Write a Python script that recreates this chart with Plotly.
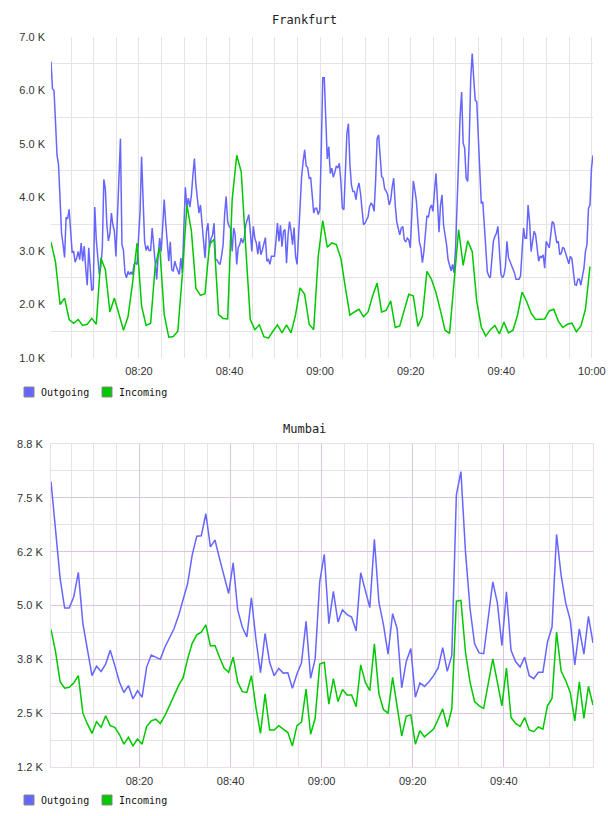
import pandas as pd
import plotly.graph_objects as go

# ---------------- data (values in thousands) ----------------
fra_out = [
    6.54, 6.03, 6.00, 5.41, 4.79, 4.61, 3.99, 3.33, 3.12, 2.88,
    3.63, 3.60, 3.78, 3.37, 2.98, 2.99, 2.79, 2.87, 2.99, 2.84,
    3.15, 2.81, 3.09, 2.68, 2.36, 3.06, 2.56, 2.26, 2.29, 3.82,
    3.21, 2.81, 2.56, 2.71, 3.06, 4.34, 4.16, 3.49, 3.19, 3.32,
    3.71, 3.49, 3.37, 2.90, 3.55, 4.42, 5.10, 3.12, 3.01, 2.59,
    2.50, 2.62, 2.56, 2.61, 2.56, 2.75, 2.78, 2.75, 3.30, 3.74,
    4.76, 3.96, 3.18, 3.01, 3.10, 3.01, 3.01, 3.43, 3.06, 2.68,
    2.47, 2.93, 3.24, 2.99, 3.49, 3.96, 3.52, 3.18, 2.81, 3.17,
    2.65, 2.62, 2.81, 2.71, 2.65, 2.56, 2.87, 2.59, 3.43, 4.19,
    3.80, 3.99, 3.82, 4.05, 4.42, 4.73, 4.23, 3.96, 3.71, 3.86,
    3.55, 3.30, 2.87, 3.37, 3.52, 3.06, 3.23, 3.30, 3.52, 2.84,
    2.83, 2.78, 2.75, 2.91, 3.12, 3.68, 4.02, 3.55, 3.46, 3.43,
    2.99, 3.43, 3.30, 2.75, 3.06, 3.12, 3.24, 3.15, 3.24, 3.49,
    3.61, 3.68, 3.37, 2.99, 3.46, 3.24, 3.15, 2.94, 3.18, 2.93,
    3.02, 3.15, 3.25, 2.81, 2.84, 2.75, 2.90, 2.90, 2.90, 3.18,
    3.52, 3.18, 3.48, 3.08, 3.37, 3.40, 2.77, 3.30, 3.55, 3.37,
    3.12, 3.44, 2.90, 2.75, 3.30, 4.05, 4.39, 4.67, 4.89, 4.59,
    4.56, 4.36, 4.37, 4.05, 3.71, 3.80, 3.80, 3.68, 3.76, 4.86,
    6.24, 6.24, 5.54, 4.72,
    4.95, 4.45, 4.55, 4.38, 4.47, 4.59, 4.55, 4.64, 4.30, 3.80,
    3.77, 4.42, 5.20, 5.38, 4.61, 4.23, 4.11, 4.11, 3.96, 4.17,
    4.27, 4.08, 3.80, 3.49, 3.52, 3.60, 3.64, 3.83, 3.89, 3.86,
    3.74, 4.30, 5.10, 5.17, 4.73, 4.39, 4.36, 4.16, 4.12, 4.05,
    3.86, 3.95, 4.20, 4.36, 3.86, 3.55, 3.42, 3.30, 3.43, 3.46,
    3.21, 3.17, 3.24, 3.21, 3.06, 3.68, 4.31, 4.14, 3.94, 3.55,
    3.17, 3.06, 2.78, 2.99, 3.43, 3.66, 3.63, 3.80, 3.86, 3.74,
    4.11, 4.45, 3.92, 3.35, 3.86, 4.05, 3.49, 3.33, 3.12, 2.84,
    2.71, 2.63, 2.75, 2.59, 3.06, 3.92, 4.55, 5.54, 5.97, 5.02,
    4.92, 4.36, 4.30, 5.04, 6.22, 6.69, 6.22, 5.82, 5.79, 5.17,
    4.30, 3.89, 3.92, 3.52, 2.99, 2.61, 2.53, 2.50, 2.84, 3.18,
    3.27, 3.33, 3.46, 2.99, 2.57, 2.50, 2.55, 2.71, 3.18, 2.88,
    2.81, 2.75, 2.65, 2.59, 2.47, 2.47, 2.47, 2.53, 2.99, 3.43,
    3.24, 3.24, 3.86, 3.55, 2.99, 3.15, 3.37, 3.30, 2.99, 2.81,
    2.90, 2.88, 2.93, 2.68, 3.18, 3.12, 3.06, 3.30, 3.55, 3.52,
    3.30, 3.15, 3.18, 2.93, 2.96, 3.07, 3.04, 2.96, 2.84, 2.76,
    2.90, 2.86, 2.61, 2.37, 2.36, 2.47, 2.47, 2.36, 2.53, 2.68,
    2.99, 3.12, 3.80, 3.86, 4.55, 4.79,
]

fra_in = [
    3.17, 2.79, 2.00, 2.12, 1.72, 1.65, 1.72, 1.61, 1.63, 1.74,
    1.63, 2.87, 2.65, 1.86, 2.12, 1.81, 1.52, 1.77, 2.40, 3.15,
    1.97, 1.61, 1.65, 2.71, 3.07, 1.81, 1.39, 1.40, 1.50, 2.56,
    3.86, 3.37, 2.30, 2.17, 2.20, 3.12, 3.22, 1.81, 1.74, 1.73,
    3.96, 4.79, 4.48, 3.06, 1.72, 1.53, 1.62, 1.40, 1.37, 1.50,
    1.62, 1.47, 1.62, 1.47, 1.81, 2.31, 2.19, 1.63, 1.53, 2.90,
    3.57,
    3.07, 3.15, 3.12, 2.86, 2.31, 1.80, 1.86, 1.91, 1.77, 1.86,
    2.16, 2.40, 1.86, 1.89, 2.07, 1.57, 1.60, 1.91, 2.19, 2.16,
    1.59, 1.78, 2.62, 2.47, 2.22, 1.88, 1.52, 1.46, 2.40, 3.40,
    2.73, 3.19, 2.99, 2.06, 1.58, 1.41, 1.53, 1.61, 1.45, 1.67,
    1.47, 1.52, 1.80, 2.23, 2.06, 1.84, 1.72, 1.73, 1.73, 1.88,
    1.91, 1.69, 1.57, 1.63, 1.65, 1.49, 1.60, 1.91, 2.71,
]

mum_out = [
    7.88, 6.71, 5.63, 4.94, 4.94, 5.20, 5.77, 4.58, 4.00, 3.37,
    3.59, 3.47, 3.64, 3.96, 3.61, 3.23, 2.98, 3.14, 2.83, 3.02,
    2.87, 3.57, 3.85, 3.80, 3.75, 4.03, 4.24, 4.46, 4.76, 5.12,
    5.51, 6.17, 6.61, 6.62, 7.13, 6.36, 6.52, 6.09, 5.66, 5.28,
    5.99, 4.89, 4.50, 4.27, 5.18, 4.21, 3.44, 4.35, 3.68, 3.37,
    3.54, 3.43, 3.44, 3.08, 3.41, 3.67, 4.63, 3.31, 3.76, 5.55,
    6.19,
    4.58, 5.33, 4.62, 4.90, 4.79, 4.73, 4.41, 5.76, 5.35, 4.95,
    6.54, 5.07, 4.55, 3.87, 4.81, 4.46, 3.09, 3.70, 4.00, 2.87,
    3.20, 3.12, 3.23, 3.37, 3.55, 4.02, 3.47, 3.84, 7.57, 8.11,
    6.25, 4.93, 4.11, 3.90, 3.88, 4.69, 5.55, 5.06, 4.07, 5.32,
    3.96, 3.70, 3.57, 3.80, 3.37, 3.30, 3.45, 3.45, 4.15, 4.50,
    6.65, 5.70, 5.06, 4.66, 3.62, 4.46, 3.87, 4.75, 4.13,
]

mum_in = [
    4.44, 3.93, 3.23, 3.08, 3.10, 3.20, 3.37, 2.50, 2.25, 2.03,
    2.30, 2.17, 2.44, 2.21, 2.17, 2.01, 1.78, 1.94, 1.74, 1.90,
    1.78, 2.19, 2.32, 2.36, 2.26, 2.44, 2.67, 2.91, 3.14, 3.32,
    3.76, 4.12, 4.32, 4.38, 4.55, 4.06, 4.07, 3.80, 3.55, 3.45,
    3.80, 3.22, 3.00, 2.98, 3.37, 2.63, 2.03, 2.95, 2.11, 2.11,
    2.21, 2.13, 2.05, 1.74, 2.21, 2.29, 3.06, 2.01, 2.38, 3.64,
    3.68,
    2.71, 3.30, 2.77, 3.05, 2.92, 2.92, 2.65, 3.62, 3.22, 3.02,
    4.11, 2.95, 2.58, 2.50, 3.33, 2.67, 1.97, 2.43, 2.46, 1.78,
    2.09, 1.95, 2.04, 2.13, 2.36, 2.60, 2.18, 2.60, 5.10, 5.12,
    3.92, 3.22, 2.77, 2.67, 2.61, 3.22, 3.76, 3.22, 2.67, 3.55,
    2.40, 2.26, 2.19, 2.40, 2.11, 2.07, 2.18, 2.13, 2.67, 2.84,
    4.38, 3.48, 3.26, 2.98, 2.32, 3.23, 2.38, 3.12, 2.69,
]

start_time = "2024-01-01 08:00:35"
fine_step = "20s"      # Frankfurt outgoing sampling
coarse_step = "60s"    # other series sampling

fra_ticks = [1, 2, 3, 4, 5, 6, 7]
fra_labels = ["1.0 K", "2.0 K", "3.0 K", "4.0 K", "5.0 K", "6.0 K", "7.0 K"]
mum_ticks = [1.25, 2.5, 3.75, 5.0, 6.25, 7.5, 8.75]
mum_labels = ["1.2 K", "2.5 K", "3.8 K", "5.0 K", "6.2 K", "7.5 K", "8.8 K"]

titles = ["Frankfurt", "Mumbai"]
series_names = ["Outgoing", "Incoming"]

# ---------------- styling ----------------
W, H = 608, 816
BLUE = "#6666ff"
GREEN = "#00c800"
GRID = "#e4e4e4"
PURPLE = "#dcc4dc"
PURPLE_LIGHT = "#ecdcec"
TICK_FONT = dict(family="Liberation Sans, Arial, sans-serif", size=11, color="#333333")
MONO = "DejaVu Sans Mono, monospace"


def px_x(x):
    return x / W


def px_y(y):
    return 1 - y / H


t_fine = pd.date_range(start=start_time, periods=len(fra_out), freq=fine_step)
t_fra_in = pd.date_range(start=start_time, periods=len(fra_in), freq=coarse_step)
t_mum = pd.date_range(start=start_time, periods=len(mum_out), freq=coarse_step)

fig = go.Figure()
fig.add_trace(go.Scatter(x=t_fine, y=fra_out, mode="lines", name=series_names[0],
                         line=dict(color=BLUE, width=1.5), xaxis="x", yaxis="y"))
fig.add_trace(go.Scatter(x=t_fra_in, y=fra_in, mode="lines", name=series_names[1],
                         line=dict(color=GREEN, width=1.5), xaxis="x", yaxis="y"))
fig.add_trace(go.Scatter(x=t_mum, y=mum_out, mode="lines", name=series_names[0],
                         line=dict(color=BLUE, width=1.5), xaxis="x2", yaxis="y2"))
fig.add_trace(go.Scatter(x=t_mum, y=mum_in, mode="lines", name=series_names[1],
                         line=dict(color=GREEN, width=1.5), xaxis="x2", yaxis="y2"))

xdom = [px_x(51), px_x(593)]
tick0 = "2024-01-01 08:00:00"

fig.update_layout(
    width=W, height=H, autosize=False, margin=dict(l=0, r=0, t=0, b=0, pad=0),
    paper_bgcolor="white", plot_bgcolor="white", showlegend=False,
    xaxis=dict(domain=xdom, anchor="y", type="date", automargin=False,
               range=[t_fine[0], t_fine[-1]],
               tickmode="linear", tick0=tick0, dtick=1200000, tickformat="%H:%M",
               showgrid=True, gridcolor=GRID, gridwidth=1, zeroline=False,
               ticks="", tickfont=TICK_FONT, ticklabelstandoff=5,
               minor=dict(tick0=tick0, dtick=300000, showgrid=True, gridcolor=GRID, ticks="")),
    yaxis=dict(domain=[px_y(358), px_y(37)], anchor="x", range=[1, 7], automargin=False,
               tickmode="array", tickvals=fra_ticks, ticktext=fra_labels,
               showgrid=False, zeroline=False, ticks="", tickfont=TICK_FONT,
               ticklabelstandoff=5,
               minor=dict(tick0=1.5, dtick=1, showgrid=True, gridcolor=GRID, ticks="")),
    xaxis2=dict(domain=xdom, anchor="y2", type="date", automargin=False,
                range=[t_mum[0], t_mum[-1]],
                tickmode="linear", tick0=tick0, dtick=1200000, tickformat="%H:%M",
                showgrid=True, gridcolor=PURPLE, zeroline=False,
                showline=True, mirror=True, linecolor=PURPLE_LIGHT, linewidth=1,
                ticks="", tickfont=TICK_FONT, ticklabelstandoff=4,
                minor=dict(tick0=tick0, dtick=300000, showgrid=True, gridcolor=GRID, ticks="")),
    yaxis2=dict(domain=[px_y(767), px_y(444)], anchor="x2", range=[1.25, 8.75], automargin=False,
                tickmode="array", tickvals=mum_ticks, ticktext=mum_labels,
                showgrid=True, gridcolor=PURPLE, zeroline=False,
                showline=True, mirror=True, linecolor=PURPLE_LIGHT, linewidth=1,
                ticks="", tickfont=TICK_FONT, ticklabelstandoff=5,
                minor=dict(tick0=1.875, dtick=1.25, showgrid=True, gridcolor=GRID, ticks="")),
)

# titles
for title, ypix in zip(titles, [20, 429]):
    fig.add_annotation(text=title, x=0.5, y=px_y(ypix), xref="paper", yref="paper",
                       xanchor="center", yanchor="middle", showarrow=False,
                       font=dict(family=MONO, size=12, color="#222222"))

# legends (one under each chart)
for ytop in [387, 795]:
    for name, color, sx in zip(series_names, [BLUE, GREEN], [24, 102]):
        fig.add_shape(type="rect", xref="paper", yref="paper",
                      x0=px_x(sx), x1=px_x(sx + 10), y0=px_y(ytop + 10), y1=px_y(ytop),
                      fillcolor=color, line=dict(color="#888888", width=1))
        fig.add_annotation(text=name, x=px_x(sx + 15), y=px_y(ytop + 5), xref="paper", yref="paper",
                           xanchor="left", yanchor="middle", showarrow=False,
                           font=dict(family=MONO, size=10, color="#111111"))

fig.write_html("out.html")
